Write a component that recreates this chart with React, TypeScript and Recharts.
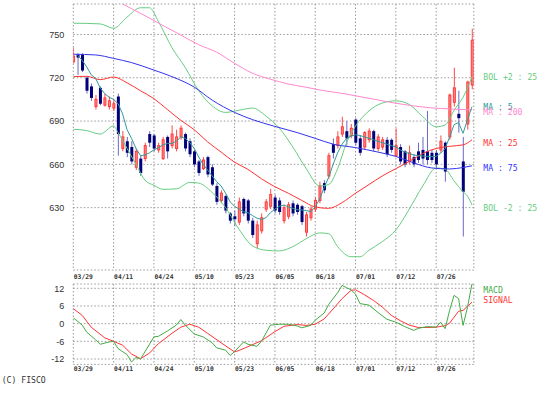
import React from 'react';
import { ComposedChart, Bar, Line, XAxis, YAxis, CartesianGrid } from 'recharts';

const dateLabels = ['03/29', '04/11', '04/24', '05/10', '05/23', '06/05', '06/18', '07/01', '07/12', '07/26'];
const dateIdx = [0, 9, 18, 27, 36, 45, 54, 63, 72, 81];
const priceTicks = [630, 660, 690, 720, 750];
const macdTicks = [12, 6, 0, -6, -12];

const opens = [731, 736, 736, 720, 714, 700, 713, 701, 700, 699, 707, 671, 676, 672, 658, 664, 664, 681, 680, 670, 664, 679, 673, 671, 679, 681, 676, 669, 662, 657, 665, 658, 645, 635, 638, 626, 624, 620, 636, 635, 621, 605, 614, 629, 631, 637, 635, 621, 624, 633, 632, 631, 613, 623, 629, 635, 647, 652, 674, 673, 681, 683, 680, 691, 678, 672, 677, 683, 671, 672, 677, 677, 666, 672, 669, 662, 665, 669, 670, 669, 668, 668, 670, 675, 679, 703, 695, 662, 688, 715];
const highs = [741, 737, 737, 721, 716, 708, 714, 709, 707, 705, 709, 683, 679, 676, 671, 666, 675, 683, 681, 675, 679, 680, 687, 684, 687, 682, 678, 670, 663, 665, 666, 660, 647, 642, 639, 627, 628, 637, 637, 636, 623, 621, 626, 636, 643, 639, 637, 632, 634, 635, 633, 632, 627, 631, 637, 648, 649, 668, 678, 683, 693, 690, 688, 692, 680, 683, 685, 684, 681, 679, 679, 678, 685, 674, 670, 673, 667, 675, 679, 697, 670, 670, 680, 676, 709, 727, 711, 679, 718, 754];
const lows = [730, 722, 724, 709, 704, 698, 701, 700, 698, 697, 666, 669, 665, 660, 656, 652, 662, 672, 669, 668, 663, 664, 671, 669, 677, 669, 665, 658, 652, 656, 651, 645, 632, 633, 626, 619, 617, 618, 624, 619, 609, 602, 612, 627, 629, 626, 625, 619, 622, 624, 625, 618, 610, 621, 627, 633, 640, 650, 664, 671, 679, 673, 678, 673, 666, 670, 675, 669, 669, 670, 665, 668, 665, 660, 658, 660, 658, 661, 660, 660, 661, 657, 668, 648, 677, 700, 682, 610, 684, 712];
const closes = [735, 734, 725, 711, 706, 705, 702, 706, 704, 702, 681, 679, 668, 662, 669, 654, 673, 675, 671, 673, 677, 669, 681, 679, 685, 671, 667, 660, 654, 663, 653, 646, 634, 640, 628, 621, 622, 634, 626, 621, 611, 618, 623, 634, 639, 628, 627, 630, 632, 626, 627, 620, 625, 629, 635, 645, 642, 666, 668, 679, 686, 678, 685, 675, 668, 682, 683, 671, 679, 677, 667, 670, 673, 662, 660, 668, 660, 663, 664, 663, 663, 660, 676, 655, 708, 713, 692, 641, 717, 746];

const ma5Pts = [[1,735.5],[2,732],[3,727.5],[4,722],[5,719.5],[6,713],[7,709],[8,706.5],[9,705],[10,702],[11,695],[12,684],[13,678],[14,671],[15,666],[16,666.5],[17,668],[18,670],[19,671.5],[20,673.5],[21,674.5],[22,674.5],[23,676],[24,679],[25,678],[26,675],[27,671],[28,665],[29,660],[30,656],[31,652],[32,648],[33,645],[34,640],[35,634],[36,631],[37,629],[38,627.2],[39,626.5],[40,624.5],[41,622.7],[42,621.8],[43,623],[44,626.5],[45,629],[46,631],[47,631.8],[48,630.5],[49,629.5],[50,628.5],[51,628.4],[52,628],[53,627.2],[54,630.5],[55,636],[56,644],[57,651],[58,660],[59,668],[60,674],[61,678],[62,679.5],[63,680.5],[64,680],[65,679],[66,678],[67,677],[68,676],[69,675],[70,674],[71,673],[72,672],[73,670],[74,668.5],[75,667.5],[76,666.5],[77,666],[78,665.8],[79,665.5],[80,665.4],[81,665.5],[82,667.7],[83,671],[84,679],[85,687.5],[86,689],[87,681.5],[88,691],[89,700]];
const ma25Pts = [[0,720.8],[3,721],[6,718.7],[9,720.5],[12,716.5],[15,711],[18,705.5],[21,698],[24,690.5],[27,684],[30,675.5],[33,668.5],[36,661.5],[39,656.5],[42,650],[45,644.5],[48,640],[51,635],[54,630.5],[57,629.5],[60,633.5],[63,640],[66,646],[69,652],[72,657],[75,662],[78,667.5],[81,671],[84,672.5],[87,673.5],[89,677]];
const ma75Pts = [[0,736.3],[5,735.8],[9,733.4],[13,730.5],[18,725.3],[22,720.8],[27,713.5],[31,704.5],[36,696],[40,691],[45,686.3],[50,682],[54,678],[58,674],[63,671.6],[68,668.5],[72,665.5],[76,661],[80,657.5],[84,656.8],[87,657.8],[89,659]];
const ma200Pts = [[10,773],[12,769.5],[16,763],[20,756.2],[24,749.6],[28,742.9],[32,737.7],[36,730],[40,723.1],[44,719],[48,715.7],[52,713.4],[56,711],[60,709.2],[64,706.9],[68,704.6],[72,702.3],[76,700.5],[80,699.1],[84,698.4],[89,697.7]];
const bolUpPts = [[0,757.8],[6,757.3],[9,754.3],[12,762],[15,768.5],[17,768.5],[19,759],[22,741],[25,727],[28,711],[31,700.5],[34,696],[37,697.5],[40,699],[43,693.5],[46,685],[49,672],[52,657],[55,645],[57,646],[59,657],[61,675],[63,686.5],[66,697],[69,702.5],[72,704],[75,701.5],[78,693],[81,686],[83,687.3],[85,697.5],[87,706.5],[89,720.5]];
const bolLoPts = [[0,684.3],[3,683.4],[6,681],[9,686.6],[10,682],[12,671],[14,660],[16,649],[18,645.5],[20,642.7],[23,643],[26,647.5],[28,647],[31,640.5],[34,630],[37,615],[40,603.5],[43,600.5],[46,600],[49,603],[52,608.5],[55,612.5],[57,612],[59,603],[62,596],[64,596],[66,600.5],[69,606.5],[72,614.5],[75,629],[78,645],[81,657.5],[83,656.6],[85,648.5],[87,641],[88,638],[89,631.8]];
const macdPts = [[0,2],[2,-0.5],[3,-2.9],[5,-5.5],[6,-7],[8,-6.2],[9,-6],[10,-8.5],[12,-10.5],[13,-13],[14,-11.5],[15,-12],[16,-9.5],[18,-4.5],[19,-4.3],[21,-2.5],[23,-0.5],[24,1.4],[25,-0.5],[27,-3.5],[29,-4.5],[31,-6.5],[32,-8.2],[34,-9],[35,-10.8],[36,-9.5],[38,-6.2],[39,-7],[41,-7.7],[42,-6],[44,-0.5],[46,-0.2],[48,-0.2],[50,-0.8],[51,-1.4],[53,-0.6],[54,1.2],[56,3.6],[57,6.5],[59,10.5],[60,13],[61,12.2],[62,11.5],[63,10],[64,6.8],[66,6.3],[68,3.8],[70,1.5],[72,0.5],[74,-1],[76,-2.3],[77,-1.6],[79,-1],[81,-1.2],[82,0.5],[83,-1.7],[84,4.5],[85,9.6],[86,8.5],[87,-0.6],[88,5.6],[89,13.6]];
const signalPts = [[0,5.1],[2,2.8],[4,-1.2],[7,-4.8],[9,-6],[11,-7.3],[13,-10.3],[15,-11.9],[17,-10],[19,-6.8],[22,-3.3],[24,-1.2],[26,-0.2],[28,-1.2],[30,-3.3],[33,-6.5],[36,-9.6],[37,-9.1],[39,-7.8],[42,-5.8],[45,-2.7],[47,-0.9],[50,-0.3],[52,-0.6],[54,-0.2],[56,1.6],[58,5],[60,8.5],[62,11.3],[63,11.5],[65,9.8],[67,7.9],[69,5.6],[71,2.8],[73,1],[75,-0.5],[77,-1.3],[79,-1.3],[81,-1.2],[83,-0.7],[84,0.2],[85,2.2],[86,4.2],[87,4.5],[89,7.3]];

const toMap = (pts: number[][]) => {
  const m: Record<number, number> = {};
  pts.forEach(([i, v]) => { m[i] = v; });
  return m;
};
const mMa5 = toMap(ma5Pts), mMa25 = toMap(ma25Pts), mMa75 = toMap(ma75Pts), mMa200 = toMap(ma200Pts);
const mUp = toMap(bolUpPts), mLo = toMap(bolLoPts), mMacd = toMap(macdPts), mSig = toMap(signalPts);

const rows = opens.map((o, i) => ({
  i, o, h: highs[i], l: lows[i], c: closes[i],
  ma5: mMa5[i] ?? null, ma25: mMa25[i] ?? null, ma75: mMa75[i] ?? null, ma200: mMa200[i] ?? null,
  bu: mUp[i] ?? null, bl: mLo[i] ?? null,
}));
const macdRows = opens.map((_, i) => ({ i, macd: mMacd[i] ?? null, sig: mSig[i] ?? null }));

const Candle = (props: any) => {
  const { x, y, width, height, payload } = props;
  if (!payload || height == null) return null;
  const { o, h, l, c } = payload;
  const cx = x + width / 2;
  const py = (v: number) => y + ((h - v) / (h - l)) * height;
  const up = c >= o;
  const top = py(Math.max(o, c));
  const bot = py(Math.min(o, c));
  if (up) {
    return (
      <g>
        <line x1={cx} x2={cx} y1={py(h)} y2={py(l)} stroke="#ff4a4a" strokeWidth={1} />
        <rect x={cx - 1} y={top} width={2} height={Math.max(1, bot - top)} fill="#ff8a8a" stroke="#ff3a3a" strokeWidth={1} />
      </g>
    );
  }
  return (
    <g>
      <line x1={cx} x2={cx} y1={py(h)} y2={py(l)} stroke="#6a6ac4" strokeWidth={1} />
      <rect x={cx - 1.5} y={top} width={3} height={Math.max(1, bot - top)} fill="#00007a" />
    </g>
  );
};

const DateTick = (dy: number) => (props: any) => {
  const { x, y, payload } = props;
  const k = dateIdx.indexOf(payload.value);
  return (
    <text x={x + 0.5} y={y + dy} textAnchor="start" fontFamily="DejaVu Sans Mono" fontWeight="bold" fontSize={6.5} fill="#333" textLength={19} lengthAdjust="spacingAndGlyphs">
      {dateLabels[k]}
    </text>
  );
};

const ValTick = (props: any) => {
  const { x, y, payload } = props;
  return (
    <text x={x - 9} y={y + 3.2} textAnchor="end" fontFamily="Liberation Sans, Arial, sans-serif" fontSize={9} fill="#333">
      {String(payload.value)}
    </text>
  );
};

const gridStyle = { stroke: '#9a9a9a', strokeDasharray: '1.5 2' };
const legend = [
  { t: 'BOL +2 : 25', y: 76.7, c: '#66cc80' },
  { t: 'MA : 5', y: 106.7, c: '#339999' },
  { t: 'MA : 200', y: 111.7, c: '#ff88cc' },
  { t: 'MA : 25', y: 142.3, c: '#ff3333' },
  { t: 'MA : 75', y: 167.7, c: '#3333ff' },
  { t: 'BOL -2 : 25', y: 207.3, c: '#66cc80' },
  { t: 'MACD', y: 289.3, c: '#44aa44' },
  { t: 'SIGNAL', y: 299.3, c: '#ff3333' },
];

export default function App() {
  return (
    <div style={{ position: 'absolute', left: 0, top: 0, width: 551, height: 397, background: '#fff', overflow: 'hidden' }}>
      <div style={{ position: 'absolute', left: 0, top: 0 }}>
        <ComposedChart width={551} height={285} data={rows} margin={{ top: 4, right: 77.2, bottom: 0, left: 0 }}>
          <CartesianGrid {...gridStyle} />
          <XAxis dataKey="i" type="number" domain={[0, 89.4]} allowDataOverflow ticks={dateIdx} interval={0}
            tick={DateTick(8.9)} tickLine={false} axisLine={false} height={15} tickSize={0} tickMargin={0} />
          <YAxis type="number" domain={[586.8, 771.1]} allowDataOverflow ticks={priceTicks} interval={0}
            tick={ValTick} tickLine={false} axisLine={false} width={73.3} tickSize={0} tickMargin={0} />
          <Bar dataKey={(d: any) => [d.l, d.h]} shape={Candle} barSize={3} isAnimationActive={false} />
          <Line type="monotone" dataKey="bu" stroke="#66cc80" strokeWidth={1} dot={false} connectNulls isAnimationActive={false} />
          <Line type="monotone" dataKey="bl" stroke="#66cc80" strokeWidth={1} dot={false} connectNulls isAnimationActive={false} />
          <Line type="monotone" dataKey="ma200" stroke="#ff88cc" strokeWidth={1} dot={false} connectNulls isAnimationActive={false} />
          <Line type="monotone" dataKey="ma75" stroke="#3333ee" strokeWidth={1} dot={false} connectNulls isAnimationActive={false} />
          <Line type="monotone" dataKey="ma25" stroke="#ff3333" strokeWidth={1} dot={false} connectNulls isAnimationActive={false} />
          <Line type="linear" dataKey="ma5" stroke="#339999" strokeWidth={1} dot={false} connectNulls isAnimationActive={false} />
        </ComposedChart>
      </div>
      <div style={{ position: 'absolute', left: 0, top: 270 }}>
        <ComposedChart width={551} height={110} data={macdRows} margin={{ top: 14, right: 77.2, bottom: 0, left: 0 }}>
          <CartesianGrid {...gridStyle} />
          <XAxis dataKey="i" type="number" domain={[0, 89.4]} allowDataOverflow ticks={dateIdx} interval={0}
            tick={DateTick(7)} tickLine={false} axisLine={false} height={15.6} tickSize={0} tickMargin={0} />
          <YAxis type="number" domain={[-13.83, 13.46]} allowDataOverflow ticks={macdTicks} interval={0}
            tick={ValTick} tickLine={false} axisLine={false} width={73.3} tickSize={0} tickMargin={0} />
          <Line type="linear" dataKey="sig" stroke="#ff3333" strokeWidth={1} dot={false} connectNulls isAnimationActive={false} />
          <Line type="linear" dataKey="macd" stroke="#44aa44" strokeWidth={1} dot={false} connectNulls isAnimationActive={false} />
        </ComposedChart>
      </div>
      <svg width={551} height={397} style={{ position: 'absolute', left: 0, top: 0, pointerEvents: 'none' }}>
        {legend.map((g) => (
          <text key={g.t} x={483.3} y={g.y + 3.3} fontFamily="DejaVu Sans Mono" fontSize={9} fill={g.c}
            textLength={g.t.length * 4.9} lengthAdjust="spacingAndGlyphs">{g.t}</text>
        ))}
        <text x={1.7} y={383.3} fontFamily="DejaVu Sans Mono" fontSize={9} fill="#333" textLength={44} lengthAdjust="spacingAndGlyphs">(C) FISCO</text>
      </svg>
    </div>
  );
}
